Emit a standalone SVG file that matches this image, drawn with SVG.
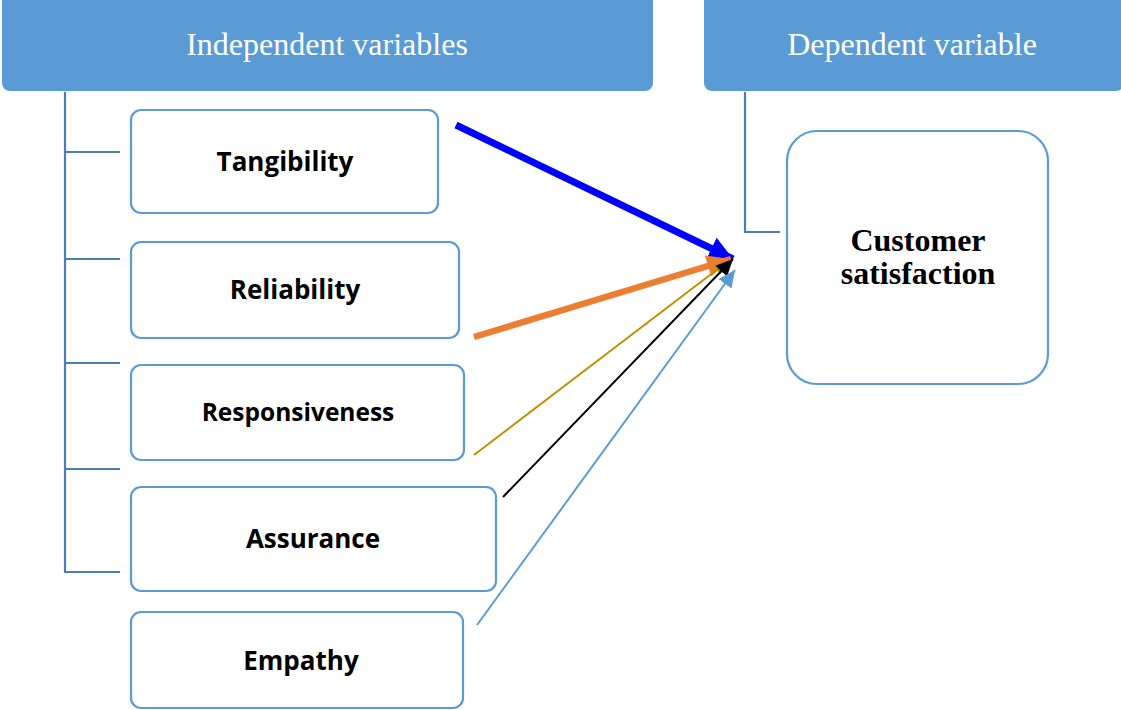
<svg xmlns="http://www.w3.org/2000/svg" width="1121" height="710" viewBox="0 0 1121 710">
  <style>
    .header { fill: #5b9bd5; }
    .header-text { font-family: "Liberation Serif", serif; font-size: 32px; fill: #ffffff; text-anchor: middle; }
    .box { fill: #ffffff; stroke: #5b9bd5; stroke-width: 2.2; }
    .label { font-family: "Open Sans", "Liberation Sans", sans-serif; font-weight: bold; font-size: 26px; fill: #000000; text-anchor: middle; }
    .dv-label { font-family: "Liberation Serif", serif; font-weight: bold; font-size: 32px; fill: #000000; text-anchor: middle; }
    .tree { fill: none; stroke: #4a7eb4; stroke-width: 2.2; }
  </style>
  <defs>
    <marker id="head-blue" markerUnits="userSpaceOnUse" markerWidth="26" markerHeight="24" refX="24" refY="12" orient="auto">
      <path d="M0,0 L24,12 L0,24 Z" fill="#0000ff"/>
    </marker>
    <marker id="head-orange" markerUnits="userSpaceOnUse" markerWidth="26" markerHeight="22" refX="24" refY="11" orient="auto">
      <path d="M0,0 L24,11 L0,22 Z" fill="#ed7d31"/>
    </marker>
    <marker id="head-gold" markerUnits="userSpaceOnUse" markerWidth="14" markerHeight="12" refX="13" refY="6" orient="auto">
      <path d="M0,0 L13,6 L0,12 Z" fill="#bf9000"/>
    </marker>
    <marker id="head-black" markerUnits="userSpaceOnUse" markerWidth="18" markerHeight="16" refX="17" refY="8" orient="auto">
      <path d="M0,0 L17,8 L0,16 Z" fill="#000000"/>
    </marker>
    <marker id="head-lightblue" markerUnits="userSpaceOnUse" markerWidth="18" markerHeight="16" refX="17" refY="8" orient="auto">
      <path d="M0,0 L17,8 L0,16 Z" fill="#5b9bd5"/>
    </marker>
  </defs>

  <!-- Column headers -->
  <g id="header-independent">
    <rect class="header" x="2" y="-10" width="651" height="101" rx="8"/>
    <text class="header-text" x="327" y="55">Independent variables</text>
  </g>
  <g id="header-dependent">
    <rect class="header" x="704" y="-10" width="420" height="101" rx="8"/>
    <text class="header-text" x="912" y="55">Dependent variable</text>
  </g>

  <!-- Hierarchy brackets linking headers to their items -->
  <g id="tree-lines">
    <path class="tree" d="M65,92 V572 H120 M65,152 H120 M65,259 H120 M65,363 H120 M65,469 H120"/>
    <path class="tree" d="M745,92 V232 H780"/>
  </g>

  <!-- Independent variable nodes -->
  <g id="node-tangibility">
    <rect class="box" x="131" y="110" width="307" height="103" rx="10"/>
    <text class="label" x="285" y="171">Tangibility</text>
  </g>
  <g id="node-reliability">
    <rect class="box" x="131" y="242" width="328" height="96" rx="10"/>
    <text class="label" x="295" y="299">Reliability</text>
  </g>
  <g id="node-responsiveness">
    <rect class="box" x="131" y="365" width="333" height="95" rx="10"/>
    <text class="label" x="298" y="421" style="font-size:24.5px">Responsiveness</text>
  </g>
  <g id="node-assurance">
    <rect class="box" x="131" y="487" width="365" height="104" rx="10"/>
    <text class="label" x="313" y="548">Assurance</text>
  </g>
  <g id="node-empathy">
    <rect class="box" x="131" y="612" width="332" height="96" rx="10"/>
    <text class="label" x="301" y="670">Empathy</text>
  </g>

  <!-- Dependent variable node -->
  <g id="node-customer-satisfaction">
    <rect class="box" x="787" y="131" width="261" height="253" rx="30"/>
    <text class="dv-label" x="918" y="251">Customer</text>
    <text class="dv-label" x="918" y="284">satisfaction</text>
  </g>

  <!-- Connectors -->
  <g id="connectors" fill="none">
    <line x1="456" y1="125" x2="733" y2="259" stroke="#0000ff" stroke-width="7" marker-end="url(#head-blue)"/>
    <line x1="474" y1="337" x2="731" y2="259" stroke="#ed7d31" stroke-width="6.5" marker-end="url(#head-orange)"/>
    <line x1="474" y1="455" x2="727" y2="262" stroke="#bf9000" stroke-width="2" marker-end="url(#head-gold)"/>
    <line x1="503" y1="497" x2="733" y2="259" stroke="#000000" stroke-width="2" marker-end="url(#head-black)"/>
    <line x1="477" y1="625" x2="735" y2="270" stroke="#5b9bd5" stroke-width="2" marker-end="url(#head-lightblue)"/>
  </g>
</svg>
